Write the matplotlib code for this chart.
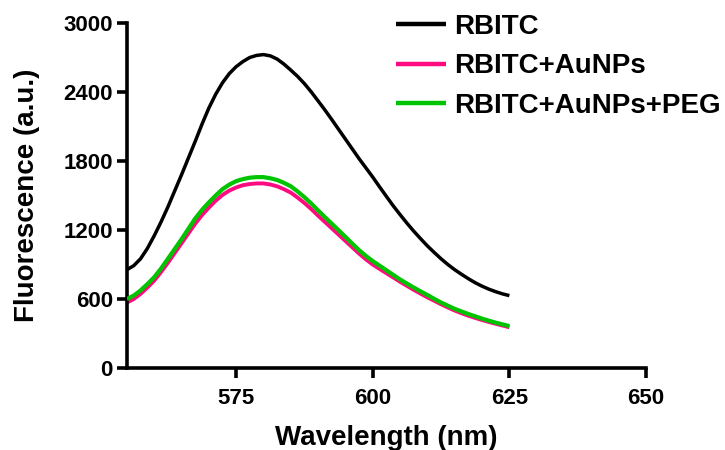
import matplotlib
matplotlib.use("Agg")
import matplotlib.pyplot as plt
import numpy as np

plt.rcParams['font.family'] = ['Liberation Sans', 'DejaVu Sans']
plt.rcParams['font.weight'] = 'bold'

wavelength = np.arange(555, 625.01, 1.25)

rbitc = [855, 890, 950, 1040, 1150, 1270, 1400, 1540, 1680, 1825, 1970, 2120,
         2260, 2380, 2480, 2560, 2620, 2665, 2700, 2718, 2725, 2714, 2686, 2642,
         2590, 2535, 2472, 2400, 2322, 2243, 2160, 2075, 1990, 1905, 1820, 1740,
         1660, 1575, 1492, 1410, 1334, 1260, 1190, 1125, 1062, 1005, 950, 900,
         855, 815, 777, 742, 712, 686, 664, 645, 630]
rbitc_aunps = [570, 600, 645, 700, 760, 835, 915, 1000, 1085, 1170, 1255, 1330,
               1395, 1455, 1505, 1543, 1570, 1590, 1600, 1605, 1605, 1596, 1580, 1555,
               1525, 1482, 1435, 1382, 1325, 1270, 1215, 1160, 1105, 1050, 995, 945,
               900, 862, 825, 788, 750, 715, 680, 647, 615, 585, 555, 527,
               500, 477, 455, 436, 418, 401, 385, 370, 355]
rbitc_aunps_peg = [600, 630, 675, 730, 790, 865, 950, 1035, 1120, 1210, 1300, 1375,
                   1440, 1500, 1555, 1595, 1625, 1643, 1655, 1660, 1660, 1650, 1635, 1610,
                   1580, 1535, 1485, 1430, 1370, 1312, 1255, 1198, 1140, 1082, 1025, 975,
                   930, 890, 850, 810, 770, 735, 700, 667, 635, 602, 570, 542,
                   515, 492, 470, 450, 430, 412, 395, 380, 365]

labels = ['RBITC', 'RBITC+AuNPs', 'RBITC+AuNPs+PEG']
colors = ['#000000', '#FF0A80', '#00C400']

xticks = [575, 600, 625, 650]
yticks = [0, 600, 1200, 1800, 2400, 3000]

fig = plt.figure(figsize=(7.25, 4.5), dpi=100)
ax = fig.add_axes([0.175, 0.182, 0.716, 0.767])

l1, = ax.plot(wavelength, rbitc, color=colors[0], lw=2.5, label=labels[0], zorder=4,
              solid_joinstyle='round', solid_capstyle='butt')
l2, = ax.plot(wavelength, rbitc_aunps, color=colors[1], lw=2.8, label=labels[1], zorder=2,
              solid_joinstyle='round', solid_capstyle='butt')
l3, = ax.plot(wavelength, rbitc_aunps_peg, color=colors[2], lw=3.0, label=labels[2], zorder=3,
              solid_joinstyle='round', solid_capstyle='butt')

ax.set_xlim(555, 650)
ax.set_ylim(0, 3000)
ax.set_xticks(xticks)
ax.set_yticks(yticks)
ax.set_xticklabels([str(t) for t in xticks], fontsize=16, fontweight='bold')
ax.set_yticklabels([str(t) for t in yticks], fontsize=16, fontweight='bold')

for s in ['top', 'right']:
    ax.spines[s].set_visible(False)
for s in ['left', 'bottom']:
    ax.spines[s].set_linewidth(2.6)
ax.tick_params(axis='x', direction='out', length=7, width=2.6, pad=7)
ax.tick_params(axis='y', direction='out', length=7, width=2.6, pad=3)

ax.set_xlabel('Wavelength (nm)', fontsize=20, fontweight='bold', labelpad=12)
ax.set_ylabel('Fluorescence (a.u.)', fontsize=20, fontweight='bold', labelpad=17)

leg = ax.legend(handles=[l1, l2, l3], loc='upper left',
                bbox_to_anchor=(396 / 725, 1 - 14 / 450), bbox_transform=fig.transFigure,
                frameon=False, fontsize=20, handlelength=1.8, handletextpad=0.3,
                labelspacing=0.48, borderaxespad=0, borderpad=0)
for t in leg.get_texts():
    t.set_fontweight('bold')
for h in leg.get_lines():
    h.set_linewidth(3.2)

fig.savefig('out.png', dpi=100)
